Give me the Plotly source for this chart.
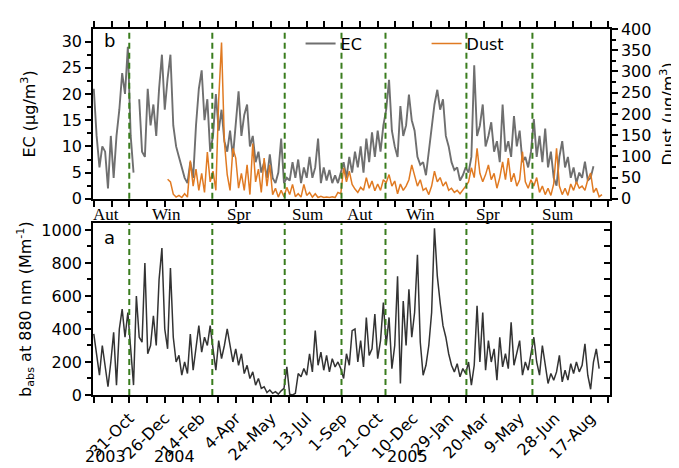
import plotly.graph_objects as go

# x positions are day offsets from the first labelled tick (31-Oct-2003)
ec_days = list(range(-50, 655, 4))
ec = [21, 12, 6, 10, 9, 2, 12, 4, 12, 17, 24, 20, 29, 12, 5, None, 19, 9, 8, 21,
      14, 18, 12, 21, 27.5, 17, 23, 27.5, 14, 10, 8, 6, 4, 3, 7, 4, 14, 21, 24.5, 15,
      19, 9, 12, 20, 13, 17, 11,
      9, 13, 8, 15, 20.5, 12, 16, 18, 10, 12, 7, 9, 5, 7, 4, 8.5, 4, 3, 5, 11.5,
      3, 4, 3.5, 7, 4, 7.5, 3, 6, 4, 8, 4, 6, 11.5, 3, 6, 3.5, 5.5, 3, 4.5, 3,
      5, 7, 4, 8, 5,
      9, 6, 10, 5, 11.5, 7, 12.7, 8, 13, 9, 14, 17, 22.7, 13, 10, 8, 17.7, 12, 14, 19.9,
      15, 13, 8, 6.5, 7, 4.5, 9, 13, 18, 20.8, 17, 19, 12, 10, 7, 5.5, 6, 3.5, 4.5, 6,
      5, 8, 25.5, 12, 14,
      18, 10, 12, 14.6, 9, 11, 7, 18, 9, 11, 8, 15.8, 10, 13, 7, 8, 6, 9, 15.2, 8,
      12, 7, 13.4, 6, 9, 4, 2.5, 8, 11, 6, 8, 4, 6, 3, 5, 4, 7.1, 3.5, 4, 6.2]

dust_days = list(range(54, 667, 4))
dust = [46, 40, 11, 4, 8, 3, 12, 4, 90, 30, 70, 20, 60, 15, 110, 40, 65, 20, 234, 368, 134,
        57, 20, 119, 96, 25, 60, 20, 80, 10, 130, 40, 70, 15, 96, 30, 80, 10, 25, 4, 20,
        5, 27, 10, 34, 5, 12, 4, 34, 8, 15, 4, 12, 3, 6, 3, 4, 3, 5, 3, 15, 12, 73, 40, 65, 34,
        23, 15, 27, 20, 50, 25, 42, 19, 35, 20, 45, 38, 57, 30, 42, 12, 35, 20, 30, 45,
        80, 55, 30, 45, 20, 25, 10, 30, 65, 40, 50, 30, 40, 20, 25, 15, 20, 12, 20, 30,
        40, 73, 50, 119, 60,
        40, 57, 80, 45, 60, 25, 50, 87, 45, 96, 40, 60, 30, 45, 111, 40, 25, 45, 30, 50,
        15, 30, 10, 25, 8, 35, 119, 30, 10, 25, 8, 35, 20, 40, 25, 30, 20, 45, 61, 15,
        25, 5, 10]

babs_days = list(range(-50, 663, 4))
babs = [370, 250, 120, 300, 180, 50, 200, 380, 60, 400, 520, 350, 500, 300, 60, 600, 350, 320, 800, 250,
        300, 480, 300, 700, 890, 400, 280, 770, 350, 200, 240, 120, 200, 130, 370, 150, 300, 420, 260, 350,
        300, 420, 280, 150, 330, 220, 300,
        400, 300, 200, 280, 180, 250, 130, 180, 100, 140, 60, 100, 40, 50, 15, 30, 10, 20, 5, 25,
        40, 170, 5, 0, 10, 130, 110, 160, 120,
        250, 140, 390, 180, 260, 150, 240, 140, 220, 170, 200, 160, 100, 250, 180, 390,
        400, 200, 330, 170, 470, 240, 280, 490, 220, 330, 560, 300, 470, 160, 300, 720, 70, 570, 300, 640,
        350, 500, 850, 320, 120, 180, 300, 500, 1010, 720, 560, 420, 350, 250, 180, 140, 190, 110, 160, 130,
        200, 60, 180, 540, 200,
        500, 150, 330, 200, 280, 90, 350, 170, 250, 160, 440, 180, 260, 330, 120, 200, 150, 260, 350, 200,
        120, 300, 180, 70, 130, 90, 140, 240, 80, 150, 90, 190, 130, 200, 140, 180, 310, 120, 35, 200,
        280, 160]

label_days = list(range(0, 651, 50))
date_labels = ['31-Oct', '26-Dec', '14-Feb', '4-Apr', '24-May', '13-Jul', '1-Sep',
               '21-Oct', '10-Dec', '29-Jan', '20-Mar', '9-May', '28-Jun', '17-Aug']
minor_days = [-50, -25] + list(range(25, 676, 50)) + [650 + 25]
minor_days = sorted(set(minor_days))

boundary_days = [0, 117, 219, 299, 361, 475, 568]
season_names = ['Aut', 'Win', 'Spr', 'Sum', 'Aut', 'Win', 'Spr', 'Sum']
season_label_days = [-33, 53, 155, 251, 325, 411, 506, 603]
year_names = ['2003', '2004', '2005']
year_label_days = [-33, 64, 392]

FONT = 'DejaVu Sans'
XR = [-51.1, 677.3]
TICK = dict(tickcolor='black', tickwidth=1.5, ticklen=6)

fig = go.Figure()
fig.add_trace(go.Scatter(x=ec_days, y=ec, name='EC', mode='lines',
                         line=dict(color='#6f6f6f', width=1.9),
                         xaxis='x2', yaxis='y2', connectgaps=False))
fig.add_trace(go.Scatter(x=dust_days, y=dust, name='Dust', mode='lines',
                         line=dict(color='#e07a22', width=1.5),
                         xaxis='x2', yaxis='y3'))
fig.add_trace(go.Scatter(x=babs_days, y=babs, name='babs', mode='lines',
                         line=dict(color='#333333', width=1.5),
                         xaxis='x', yaxis='y', showlegend=False))
fig.add_trace(go.Scatter(x=babs_days, y=babs, mode='lines', line=dict(width=0),
                         xaxis='x', yaxis='y4', showlegend=False, hoverinfo='skip',
                         opacity=0))

shapes = []
for d in boundary_days:
    for yr in ['y domain', 'y2 domain']:
        shapes.append(dict(type='line', xref='x', yref=yr, x0=d, x1=d, y0=0, y1=1,
                           line=dict(color='#3a7d1e', width=2, dash='6px,4px'),
                           layer='above'))

annotations = []
for name, d in zip(season_names, season_label_days):
    annotations.append(dict(text=name, x=d, xref='x', y=0.493, yref='paper',
                            showarrow=False, xanchor='center', yanchor='middle',
                            font=dict(family='Liberation Serif', size=17, color='black')))
for name, d in zip(year_names, year_label_days):
    annotations.append(dict(text=name, x=d, xref='x', y=-0.168, yref='paper',
                            showarrow=False, xanchor='center', yanchor='middle',
                            font=dict(family=FONT, size=16, color='black')))
annotations.append(dict(text='b', x=0.0325, y=0.968, xref='paper', yref='paper',
                        showarrow=False, xanchor='center', yanchor='middle',
                        font=dict(family=FONT, size=18, color='black')))
annotations.append(dict(text='a', x=0.0325, y=0.429, xref='paper', yref='paper',
                        showarrow=False, xanchor='center', yanchor='middle',
                        font=dict(family=FONT, size=18, color='black')))

axis_common = dict(showline=True, linecolor='black', linewidth=1.5,
                   showgrid=False, zeroline=False,
                   tickfont=dict(family=FONT, size=16, color='black'), **TICK)

fig.update_layout(
    width=679, height=468,
    margin=dict(l=85, r=71, t=21, b=72),
    paper_bgcolor='white', plot_bgcolor='white',
    font=dict(family=FONT, size=16, color='black'),
    xaxis=dict(domain=[0, 1], anchor='y', range=XR, tickmode='array',
               tickvals=label_days, ticktext=date_labels, tickangle=-45,
               ticks='outside', mirror=True,
               minor=dict(tickvals=minor_days, ticks='outside', **TICK),
               **axis_common),
    xaxis2=dict(domain=[0, 1], anchor='y2', range=XR, matches='x', tickmode='array',
                tickvals=label_days, showticklabels=False, ticks='outside', mirror='ticks',
                minor=dict(tickvals=minor_days, ticks='outside', **TICK),
                **axis_common),
    yaxis=dict(domain=[0, 0.4693], anchor='x', range=[0, 1041], dtick=200,
               ticks='outside', minor=dict(dtick=100, ticks='outside', ticklen=4,
                                           tickcolor='black', tickwidth=1.5),
               title=dict(text='b<sub>abs</sub> at 880 nm (Mm<sup>-1</sup>)',
                          standoff=6, font=dict(family=FONT, size=16)),
               **axis_common),
    yaxis4=dict(overlaying='y', side='right', anchor='x', range=[0, 1041], dtick=100,
                ticks='inside', showticklabels=False, **axis_common),
    yaxis2=dict(domain=[0.536, 1], anchor='x2', range=[0, 32.4], dtick=5,
                ticks='outside', minor=dict(dtick=2.5, ticks='outside', ticklen=4,
                                            tickcolor='black', tickwidth=1.5),
                title=dict(text='EC (µg/m<sup>3</sup>)', standoff=22,
                           font=dict(family=FONT, size=16)),
                **axis_common),
    yaxis3=dict(overlaying='y2', side='right', anchor='x2', range=[0, 400], dtick=50,
                ticks='outside', minor=dict(dtick=25, ticks='outside', ticklen=4,
                                            tickcolor='black', tickwidth=1.5),
                title=dict(text='Dust (µg/m<sup>3</sup>)', standoff=12,
                           font=dict(family=FONT, size=16)),
                **axis_common),
    legend=dict(orientation='h', x=0.4015, y=0.96, xanchor='left', yanchor='middle',
                bgcolor='rgba(0,0,0,0)', font=dict(family=FONT, size=16),
                entrywidth=81),
    shapes=shapes,
    annotations=annotations,
)

fig.write_html('out.html')
